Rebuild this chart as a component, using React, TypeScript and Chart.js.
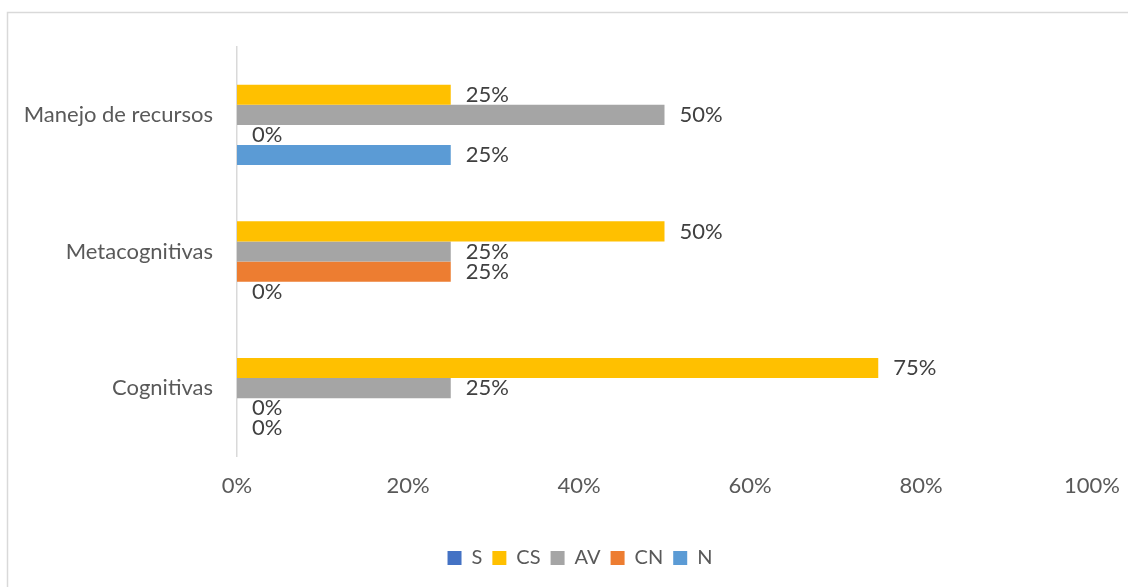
import { useEffect, useRef } from "react";
import { Chart, registerables } from "chart.js";

Chart.register(...registerables);

const categories = ["Manejo de recursos", "Metacognitivas", "Cognitivas"];
const seriesNames = ["S", "CS", "AV", "CN", "N"];
const sValues: (number | null)[] = [null, null, null];
const csValues: (number | null)[] = [25, 50, 75];
const avValues: (number | null)[] = [50, 25, 25];
const cnValues: (number | null)[] = [0, 25, 0];
const nValues: (number | null)[] = [25, 0, 0];
const xTickValues = [0, 20, 40, 60, 80, 100];
const seriesColors = ["#4472C4", "#FFC000", "#A5A5A5", "#ED7D31", "#5B9BD5"];

const FONT = "Lato";
const LEGEND_SHIFT = 27;

const frameBorderPlugin = {
  id: "frameBorder",
  beforeDraw(chart: any) {
    const ctx = chart.ctx;
    ctx.save();
    ctx.strokeStyle = "#d9d9d9";
    ctx.lineWidth = 1.5;
    ctx.beginPath();
    ctx.moveTo(7.5, chart.height);
    ctx.lineTo(7.5, 12.5);
    ctx.lineTo(chart.width, 12.5);
    ctx.stroke();
    ctx.restore();
  },
};

const legendOffsetPlugin = {
  id: "legendOffset",
  afterLayout(chart: any) {
    const lg = chart.legend;
    if (!lg) return;
    lg.left += LEGEND_SHIFT;
    lg.right += LEGEND_SHIFT;
  },
};

const valueLabelPlugin = {
  id: "valueLabels",
  afterDatasetsDraw(chart: any) {
    const ctx = chart.ctx;
    ctx.save();
    ctx.font = `22px ${FONT}`;
    ctx.fillStyle = "#404040";
    ctx.textAlign = "left";
    ctx.textBaseline = "middle";
    chart.data.datasets.forEach((ds: any, i: number) => {
      const meta = chart.getDatasetMeta(i);
      if (meta.hidden) return;
      meta.data.forEach((el: any, j: number) => {
        const v = ds.data[j];
        if (v === null || v === undefined) return;
        ctx.fillText(`${v}%`, el.x + 15, el.y);
      });
    });
    ctx.restore();
  },
};

export default function App() {
  const canvasRef = useRef<HTMLCanvasElement | null>(null);

  useEffect(() => {
    if (!canvasRef.current) return;
    const values = [sValues, csValues, avValues, cnValues, nValues];
    const chart = new Chart(canvasRef.current, {
      type: "bar",
      data: {
        labels: categories,
        datasets: seriesNames.map((name, i) => ({
          label: name,
          data: values[i],
          backgroundColor: seriesColors[i],
          borderWidth: 0,
          categoryPercentage: 0.735,
          barPercentage: 1,
        })),
      },
      options: {
        indexAxis: "y",
        responsive: false,
        animation: false,
        layout: { padding: { top: 46.5, right: 36, left: 14, bottom: 9 } },
        scales: {
          y: {
            type: "category",
            grid: { display: false, drawTicks: false },
            border: { display: true, color: "#d9d9d9", width: 1.5 },
            ticks: {
              font: { family: FONT, size: 22 },
              color: "#595959",
              padding: 24,
            },
            afterFit: (scale: any) => {
              scale.width = 223;
            },
          },
          x: {
            type: "linear",
            min: 0,
            max: 100,
            grid: { display: false, drawTicks: true, tickLength: 16.5 },
            border: { display: false },
            ticks: {
              font: { family: FONT, size: 22 },
              color: "#595959",
              padding: 0,
              callback: (v: any) => `${v}%`,
            },
            afterBuildTicks: (scale: any) => {
              scale.ticks = xTickValues.map((v) => ({ value: v }));
            },
            afterFit: (scale: any) => {
              scale.height = 81.5;
            },
          },
        },
        plugins: {
          legend: {
            position: "bottom",
            labels: {
              font: { family: FONT, size: 20 },
              color: "#595959",
              boxWidth: 14,
              boxHeight: 14,
              padding: 10,
            },
          },
          tooltip: { enabled: false },
        },
      },
      plugins: [frameBorderPlugin, legendOffsetPlugin, valueLabelPlugin],
    });
    return () => chart.destroy();
  }, []);

  return (
    <div style={{ position: "fixed", left: 0, top: 0, width: 1128, height: 587, background: "#fff" }}>
      <canvas ref={canvasRef} width={1128} height={587} />
    </div>
  );
}
